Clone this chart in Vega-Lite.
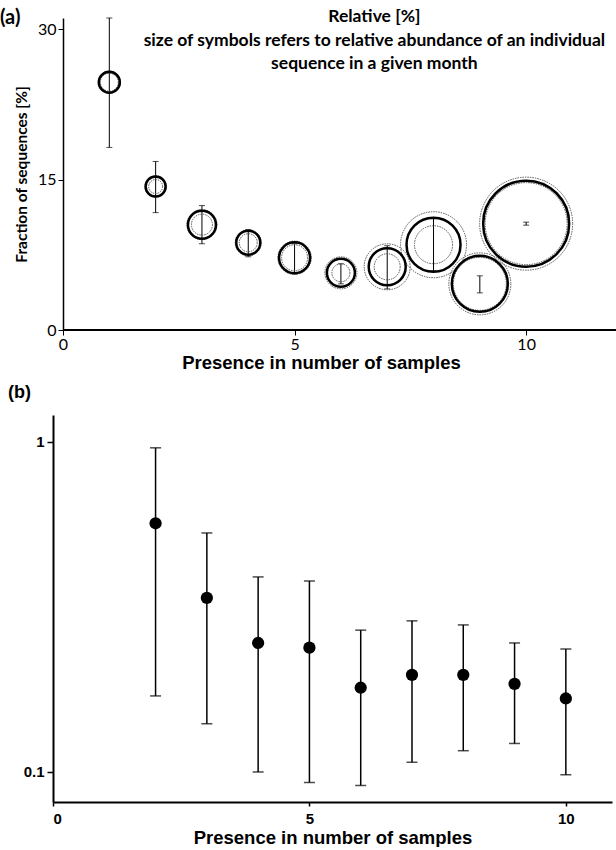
{
  "$schema": "https://vega.github.io/schema/vega-lite/v6.json",
  "padding": {"top": 7, "left": 0, "right": 0, "bottom": 0},
  "background": "white",
  "config": {
    "view": {"stroke": null},
    "axis": {"grid": false, "domainColor": "black", "tickColor": "black", "labelColor": "black", "titleColor": "black"}
  },
  "title": {
    "text": ["Relative [%]", "size of symbols refers to relative abundance of an individual", "sequence in a given month"],
    "font": "Lato", "fontSize": 17.5, "fontWeight": "bold", "lineHeight": 23.5,
    "anchor": "middle", "dx": 66, "offset": -65, "color": "black"
  },
  "spacing": 12,
  "vconcat": [
    {
      "width": 563,
      "height": 312,
      "title": {"text": "(a)", "anchor": "start", "frame": "group", "dx": -53, "offset": -10, "font": "Lato", "fontSize": 20, "fontWeight": "bold", "color": "black"},
      "data": {"values": [
        {"x": 1, "mean": 24.7, "lo": 18.2, "hi": 31.1, "solid": 4.41, "inner": 3.24, "outer": 4.84},
        {"x": 2, "mean": 14.3, "lo": 11.7, "hi": 16.8, "solid": 4.0, "inner": 1.96, "outer": 4.58},
        {"x": 3, "mean": 10.5, "lo": 8.6, "hi": 12.4, "solid": 7.84, "inner": 4.41, "outer": 9.0},
        {"x": 4, "mean": 8.7, "lo": 7.3, "hi": 10.0, "solid": 5.76, "inner": 3.24, "outer": 6.76},
        {"x": 5, "mean": 7.2, "lo": 5.6, "hi": 8.6, "solid": 9.61, "inner": 6.76, "outer": 11.16},
        {"x": 6, "mean": 5.7, "lo": 4.6, "hi": 6.6, "solid": 7.84, "inner": 3.24, "outer": 10.24},
        {"x": 7, "mean": 6.3, "lo": 4.1, "hi": 8.4, "solid": 13.69, "inner": 6.76, "outer": 21.16},
        {"x": 8, "mean": 8.5, "lo": 5.9, "hi": 11.1, "solid": 29.16, "inner": 14.44, "outer": 43.56},
        {"x": 9, "mean": 4.6, "lo": 3.7, "hi": 5.4, "solid": 31.36, "inner": 28.09, "outer": 38.44},
        {"x": 10, "mean": 10.6, "lo": 10.45, "hi": 10.75, "solid": 73.96, "inner": 67.24, "outer": 86.49}
      ]},
      "encoding": {
        "x": {"field": "x", "type": "quantitative",
          "scale": {"domain": [-0.216, 11.94], "nice": false, "zero": false},
          "axis": {"values": [0, 5, 10], "domain": false, "tickSize": 5, "labelFont": "Lato", "labelFontSize": 16, "labelPadding": 1,
            "title": "Presence in number of samples", "titleFont": "Liberation Sans", "titleFontSize": 18.5, "titleFontWeight": "bold", "titlePadding": 1, "titleX": 268, "titleAlign": "center"}}
      },
      "layer": [
        {
          "mark": {"type": "rule", "color": "black", "strokeWidth": 1.5},
          "encoding": {"x": {"datum": 0}, "x2": {"datum": 11.94}, "y": {"datum": 0}}
        },
        {
          "mark": {"type": "rule", "color": "black", "strokeWidth": 1},
          "encoding": {
            "y": {"field": "lo", "type": "quantitative",
              "scale": {"domain": [0, 31.1], "nice": false},
              "axis": {"values": [0, 15, 30], "offset": -10, "domainWidth": 1.5, "tickSize": 5, "labelFont": "Lato", "labelFontSize": 16, "labelPadding": 2,
                "title": "Fraction of sequences [%]", "titleFont": "Lato", "titleFontSize": 15.5, "titleFontWeight": "bold", "titlePadding": 8}},
            "y2": {"field": "hi"}
          }
        },
        {"mark": {"type": "tick", "orient": "horizontal", "color": "black", "size": 6, "thickness": 1}, "encoding": {"y": {"field": "lo", "type": "quantitative"}}},
        {"mark": {"type": "tick", "orient": "horizontal", "color": "black", "size": 6, "thickness": 1}, "encoding": {"y": {"field": "hi", "type": "quantitative"}}},
        {
          "mark": {"type": "point", "shape": "circle", "filled": false, "stroke": "#555", "strokeWidth": 1, "strokeDash": [1.5, 1], "opacity": 1},
          "encoding": {"y": {"field": "mean", "type": "quantitative"}, "size": {"field": "outer", "type": "quantitative", "scale": {"type": "linear", "domain": [0, 100], "range": [0, 10000], "zero": true}, "legend": null}}
        },
        {
          "mark": {"type": "point", "shape": "circle", "filled": false, "stroke": "#555", "strokeWidth": 1, "strokeDash": [1.5, 1], "opacity": 1},
          "encoding": {"y": {"field": "mean", "type": "quantitative"}, "size": {"field": "inner", "type": "quantitative", "legend": null}}
        },
        {
          "mark": {"type": "point", "shape": "circle", "filled": false, "stroke": "black", "strokeWidth": 2.5, "opacity": 1},
          "encoding": {"y": {"field": "mean", "type": "quantitative"}, "size": {"field": "solid", "type": "quantitative", "legend": null}}
        }
      ]
    },
    {
      "width": 559,
      "height": 387,
      "title": {"text": "(b)", "anchor": "start", "frame": "group", "dx": -45, "offset": 13, "font": "Liberation Sans", "fontSize": 18, "fontWeight": "bold", "color": "black"},
      "data": {"values": [
        {"x": 2, "mean": 0.567, "lo": 0.17, "hi": 0.96},
        {"x": 3, "mean": 0.337, "lo": 0.14, "hi": 0.53},
        {"x": 4, "mean": 0.246, "lo": 0.100, "hi": 0.39},
        {"x": 5, "mean": 0.238, "lo": 0.093, "hi": 0.379},
        {"x": 6, "mean": 0.180, "lo": 0.091, "hi": 0.269},
        {"x": 7, "mean": 0.197, "lo": 0.107, "hi": 0.287},
        {"x": 8, "mean": 0.197, "lo": 0.116, "hi": 0.279},
        {"x": 9, "mean": 0.185, "lo": 0.122, "hi": 0.246},
        {"x": 10, "mean": 0.167, "lo": 0.098, "hi": 0.236}
      ]},
      "encoding": {
        "x": {"field": "x", "type": "quantitative",
          "scale": {"domain": [0, 10.9], "nice": false, "zero": false},
          "axis": {"values": [0, 5, 10], "domainWidth": 2, "tickSize": 4, "tickWidth": 1.5, "labelFont": "Liberation Sans", "labelFontSize": 15, "labelFontWeight": "bold", "labelPadding": 5,
            "title": "Presence in number of samples", "titleFont": "Liberation Sans", "titleFontSize": 18.5, "titleFontWeight": "bold", "titlePadding": 2}}
      },
      "layer": [
        {
          "mark": {"type": "rule", "color": "black", "strokeWidth": 1.5},
          "encoding": {
            "y": {"field": "lo", "type": "quantitative",
              "scale": {"type": "log", "domain": [0.0811, 1.207], "nice": false},
              "axis": {"values": [0.1, 1], "format": "~g", "domainWidth": 2, "tickSize": 6, "tickWidth": 1.5, "labelFont": "Liberation Sans", "labelFontSize": 15, "labelFontWeight": "bold", "labelPadding": 3, "title": null}},
            "y2": {"field": "hi"}
          }
        },
        {"mark": {"type": "tick", "orient": "horizontal", "color": "black", "size": 11, "thickness": 1.5}, "encoding": {"y": {"field": "lo", "type": "quantitative"}}},
        {"mark": {"type": "tick", "orient": "horizontal", "color": "black", "size": 11, "thickness": 1.5}, "encoding": {"y": {"field": "hi", "type": "quantitative"}}},
        {
          "mark": {"type": "point", "shape": "circle", "filled": true, "color": "black", "opacity": 1, "size": 150},
          "encoding": {"y": {"field": "mean", "type": "quantitative"}}
        }
      ]
    }
  ]
}
